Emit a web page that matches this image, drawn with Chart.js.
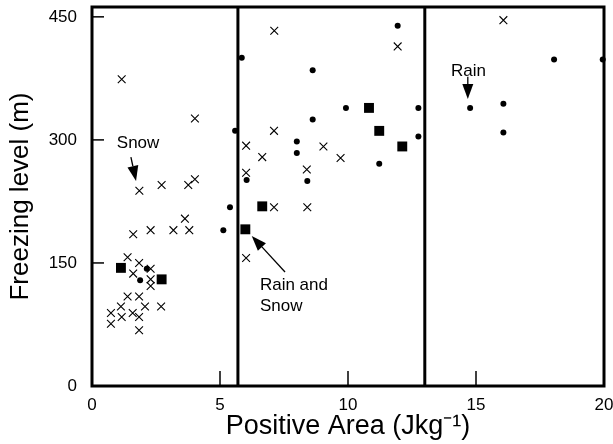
<!DOCTYPE html>
<html>
<head>
<meta charset="utf-8">
<script src="https://cdn.jsdelivr.net/npm/chart.js@4.4.1/dist/chart.umd.min.js"></script>
<style>
  html, body { margin: 0; padding: 0; background: #fff; }
  #wrap { width: 613px; height: 444px; }
</style>
</head>
<body>
<div id="wrap"><canvas id="chart"></canvas></div>
<script>
// Snow (crosses)
const snowX = [1.16, 4.02, 6.02, 6.02, 1.85, 2.72, 3.76, 4.02, 3.63, 1.61, 2.29, 3.18, 3.80, 6.02, 1.39,
  1.84, 2.29, 1.61, 2.29, 2.29, 1.39, 1.84, 1.13, 2.07, 2.70, 0.74, 1.59, 0.74, 1.16, 1.84, 1.84,
  7.12, 11.94, 7.11, 9.04, 6.65, 9.71, 8.39, 7.11, 8.41, 16.07];
const snowY = [374, 326, 293, 260, 238, 245, 245, 252, 204, 185, 190, 190, 190, 156, 157,
  150, 143, 137, 130, 122, 109, 109, 97, 97, 97, 89, 89, 76, 84, 84, 68,
  433, 414, 311, 292, 279, 278, 264, 218, 218, 446];

// Rain (dots)
const rainX = [5.85, 5.59, 6.04, 5.39, 5.13, 2.14, 1.88, 11.94, 8.62, 9.92, 12.75, 8.62, 12.75,
  8.0, 8.0, 11.22, 8.41, 18.05, 19.95, 14.77, 16.07, 16.07];
const rainY = [400, 311, 251, 218, 190, 143, 129, 439, 385, 339, 339, 325, 304,
  298, 284, 271, 250, 398, 398, 339, 344, 309];

// Rain and snow (squares)
const mixX = [5.99, 1.13, 2.72, 10.82, 11.22, 12.12, 6.65];
const mixY = [191, 144, 130, 339, 311, 292, 219];

const xTicks = [0, 5, 10, 15, 20];
const yTicks = [0, 150, 300, 450];
const dividers = [5.7, 13];

// annotations: text position + arrow (from -> tip), all in data units
const notes = [
  { lines: ['Snow'], x: 1.8, y: 296, align: 'center', from: [1.52, 279], to: [1.72, 250] },
  { lines: ['Rain and', 'Snow'], x: 6.56, y: 123, align: 'left', from: [7.54, 139], to: [6.24, 183] },
  { lines: ['Rain'], x: 14.71, y: 384, align: 'center', from: [14.68, 377], to: [14.68, 350] }
];

const FONT = '"Liberation Sans", Arial, sans-serif';

function toPoints(xs, ys) {
  return xs.map((x, i) => ({ x: x, y: ys[i] }));
}

function arrow(ctx, x1, y1, x2, y2) {
  const ang = Math.atan2(y2 - y1, x2 - x1);
  const len = 15, hw = 5.5;
  const bx = x2 - Math.cos(ang) * len, by = y2 - Math.sin(ang) * len;
  ctx.beginPath();
  ctx.moveTo(x1, y1);
  ctx.lineTo(bx, by);
  ctx.stroke();
  ctx.beginPath();
  ctx.moveTo(x2, y2);
  ctx.lineTo(bx + Math.sin(ang) * hw, by - Math.cos(ang) * hw);
  ctx.lineTo(bx - Math.sin(ang) * hw, by + Math.cos(ang) * hw);
  ctx.closePath();
  ctx.fill();
}

const framePlugin = {
  id: 'frame',
  beforeDatasetsDraw(chart) {
    const { ctx, chartArea: a, scales: { x, y } } = chart;
    ctx.save();
    ctx.strokeStyle = '#000';
    ctx.lineWidth = 1.5;
    // inward tick marks
    yTicks.slice(1).forEach(v => {
      const py = y.getPixelForValue(v);
      ctx.beginPath(); ctx.moveTo(a.left, py); ctx.lineTo(a.left + 12, py); ctx.stroke();
    });
    xTicks.slice(1, -1).forEach(v => {
      const px = x.getPixelForValue(v);
      ctx.beginPath(); ctx.moveTo(px, a.bottom); ctx.lineTo(px, a.bottom - 15); ctx.stroke();
    });
    // vertical divider lines
    ctx.lineWidth = 3;
    dividers.forEach(v => {
      const px = x.getPixelForValue(v);
      ctx.beginPath(); ctx.moveTo(px, a.top); ctx.lineTo(px, a.bottom); ctx.stroke();
    });
    ctx.strokeRect(a.left, a.top, a.right - a.left, a.bottom - a.top);
    ctx.restore();
  },
  afterDatasetsDraw(chart) {
    const { ctx, scales: { x, y } } = chart;
    ctx.save();
    ctx.fillStyle = '#000';
    ctx.strokeStyle = '#000';
    ctx.lineWidth = 1.3;
    ctx.font = '17px ' + FONT;
    ctx.textBaseline = 'middle';
    notes.forEach(n => {
      ctx.textAlign = n.align;
      const px = x.getPixelForValue(n.x);
      n.lines.forEach((t, i) => ctx.fillText(t, px, y.getPixelForValue(n.y) + i * 21));
      arrow(ctx, x.getPixelForValue(n.from[0]), y.getPixelForValue(n.from[1]),
        x.getPixelForValue(n.to[0]), y.getPixelForValue(n.to[1]));
    });
    ctx.restore();
  }
};

new Chart(document.getElementById('chart'), {
  type: 'scatter',
  data: {
    datasets: [
      {
        label: 'Snow',
        data: toPoints(snowX, snowY),
        pointStyle: 'crossRot',
        pointRadius: 5.5,
        borderColor: '#000',
        borderWidth: 1.1,
        clip: false
      },
      {
        label: 'Rain',
        data: toPoints(rainX, rainY),
        pointStyle: 'circle',
        pointRadius: 3,
        backgroundColor: '#000',
        borderColor: '#000',
        borderWidth: 0,
        clip: false
      },
      {
        label: 'Rain and Snow',
        data: toPoints(mixX, mixY),
        pointStyle: 'rect',
        pointRadius: 7,
        backgroundColor: '#000',
        borderColor: '#000',
        borderWidth: 0,
        clip: false
      }
    ]
  },
  options: {
    responsive: true,
    maintainAspectRatio: false,
    animation: false,
    events: [],
    layout: { padding: { left: 0, top: 6, right: 9, bottom: 0 } },
    plugins: {
      legend: { display: false },
      tooltip: { enabled: false }
    },
    scales: {
      x: {
        type: 'linear',
        min: 0,
        max: 20,
        afterBuildTicks: s => { s.ticks = xTicks.map(v => ({ value: v })); },
        afterFit: s => { s.height = 58; s.paddingLeft = 0; s.paddingRight = 0; },
        grid: { display: false, drawTicks: false },
        border: { display: false },
        ticks: { color: '#000', padding: 9, maxRotation: 0, font: { family: FONT, size: 17 } },
        title: {
          display: true,
          text: 'Positive Area (Jkg\u207B\u00B9)',
          color: '#000',
          padding: { top: 0, bottom: 1 },
          font: { family: FONT, size: 27 }
        }
      },
      y: {
        type: 'linear',
        min: 0,
        max: 462,
        afterBuildTicks: s => { s.ticks = yTicks.map(v => ({ value: v })); },
        afterFit: s => { s.width = 92; s.paddingTop = 0; s.paddingBottom = 0; },
        grid: { display: false, drawTicks: false },
        border: { display: false },
        ticks: { color: '#000', padding: 15, font: { family: FONT, size: 17 } },
        title: {
          display: true,
          text: 'Freezing level (m)',
          color: '#000',
          padding: { top: 5, bottom: 0 },
          font: { family: FONT, size: 26 }
        }
      }
    }
  },
  plugins: [framePlugin]
});
</script>
</body>
</html>
